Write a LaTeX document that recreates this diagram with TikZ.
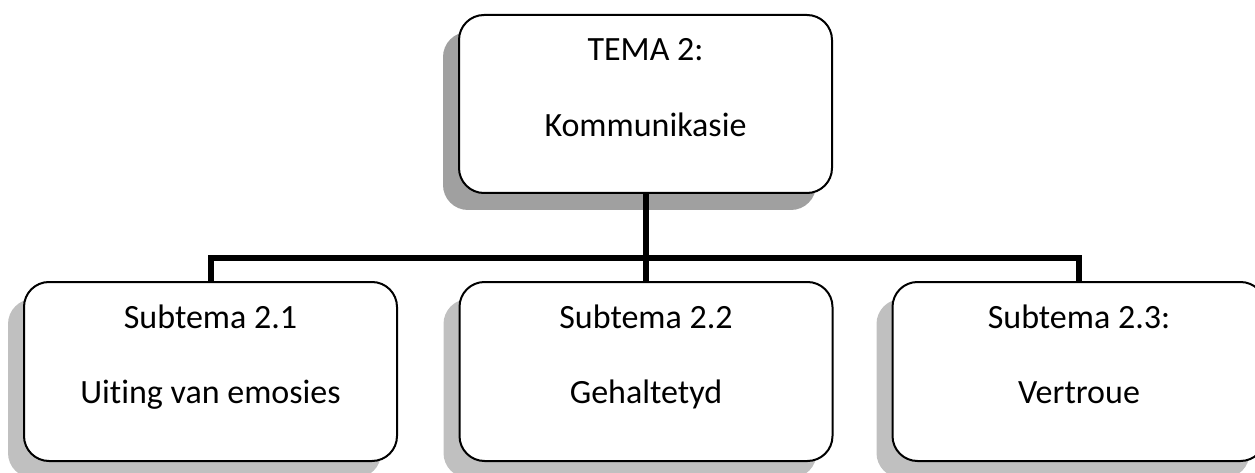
\documentclass[tikz,border=0pt]{standalone}
\usepackage{fontspec}
\setmainfont{Carlito}[Ligatures=NoCommon]
\usetikzlibrary{shadows,calc}
\definecolor{shadowdark}{RGB}{160,160,160}
\definecolor{shadowlight}{RGB}{192,192,192}
\begin{document}
\begin{tikzpicture}[x=1pt,y=-1pt,
  box/.style={draw=black,line width=2pt,fill=white,rounded corners=25pt,
    inner sep=0pt,outer sep=0pt,minimum width=373pt,minimum height=179pt},
  topshadow/.style={general shadow={fill=shadowdark,shadow xshift=-16pt,shadow yshift=-17pt}},
  lowshadow/.style={general shadow={fill=shadowlight,shadow xshift=-16pt,shadow yshift=-17pt}},
  lbl/.style={anchor=base,inner sep=0pt,font=\fontsize{34}{40}\selectfont},
  conn/.style={line width=6pt,line join=miter,line cap=butt}]
\useasboundingbox (0,0) rectangle (1255,473);
% boxes
\node[box,topshadow,minimum height=178pt] (top) at (645.5,104) {};
\node[box,lowshadow] (b1) at (210.5,371.5) {};
\node[box,lowshadow] (b2) at (646,371.5) {};
\node[box,lowshadow] (b3) at (1079,371.5) {};
% connectors
\coordinate (j) at (645.5,257.5);
\draw[conn] (top.south) -- (j);
\draw[conn] (b1.north) -- (b1.north |- j) -- (b3.north |- j) -- (b3.north);
\draw[conn] (j) -- (j |- b2.north);
% labels
\node[lbl] (t1) at (645.5,61) {TEMA 2:};
\node[lbl] (t2) at (645.5,137) {Kommunikasie};
\node[lbl] (s1a) at (210.5,328) {Subtema 2.1};
\node[lbl] (s1b) at (210.5,403) {Uiting van emosies};
\node[lbl] (s2a) at (646,328) {Subtema 2.2};
\node[lbl] (s2b) at (646,403) {Gehaltetyd};
\node[lbl] (s3a) at (1079,328) {Subtema 2.3:};
\node[lbl] (s3b) at (1079,403) {Vertroue};
\end{tikzpicture}
\end{document}
